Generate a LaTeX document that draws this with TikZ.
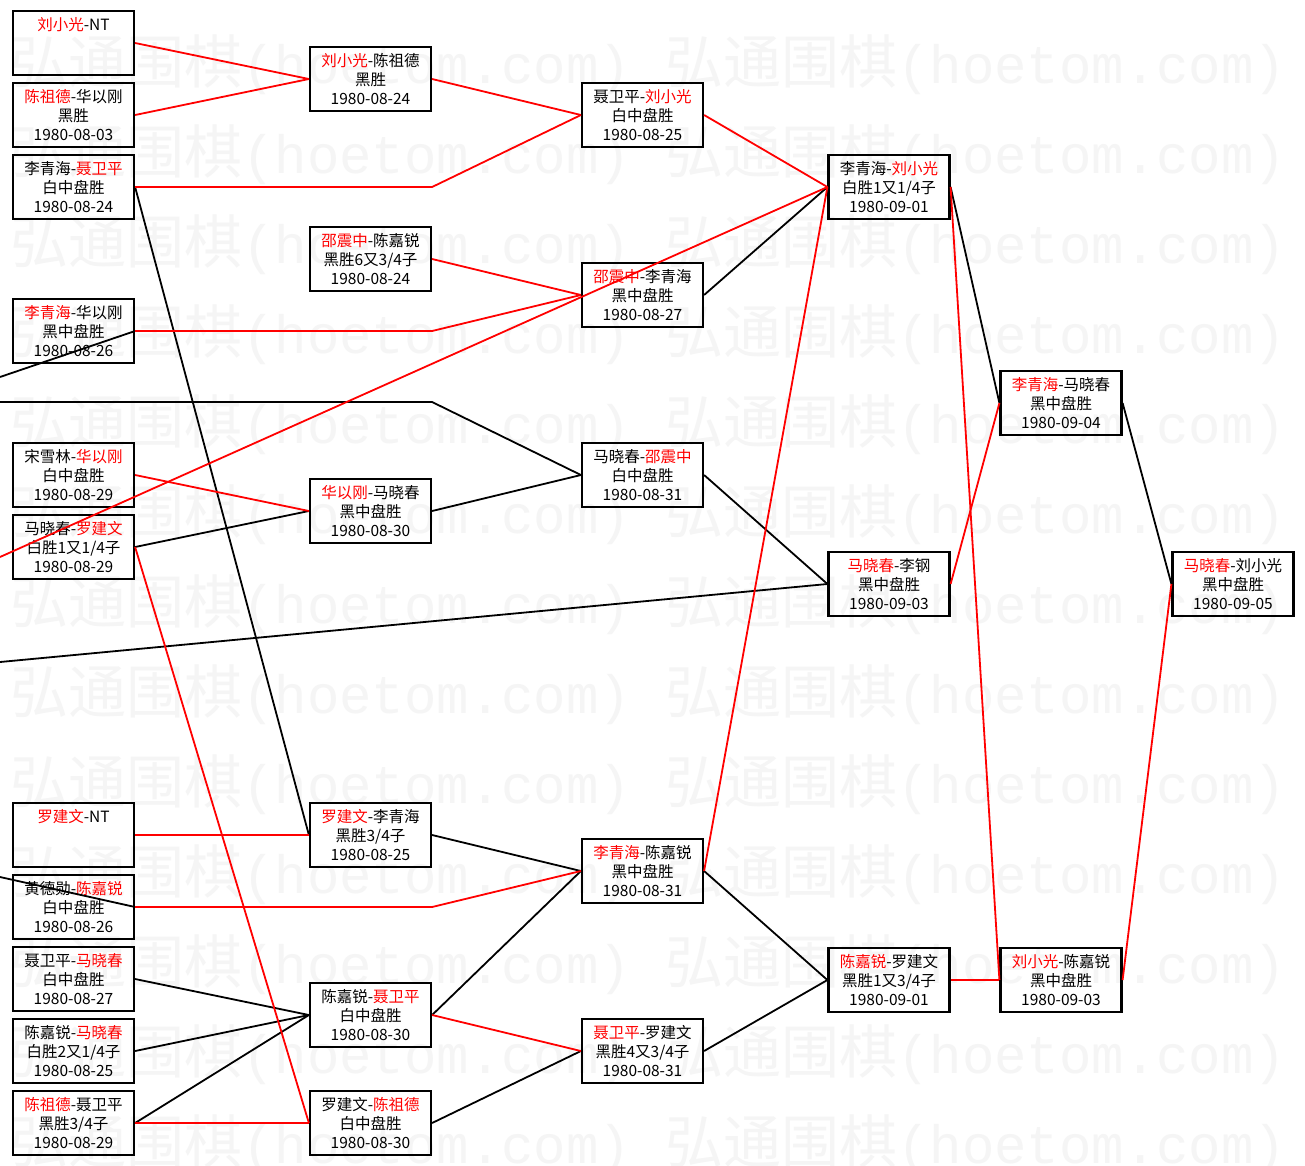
\documentclass[tikz,border=0pt]{standalone}
\usepackage{fontspec}
\setmainfont{Noto Sans CJK SC}
\newfontfamily\wmmono{Liberation Mono}
\newcommand\R[1]{\textcolor{red}{#1}}
\newcommand\mkbox[6]{%
  \node[gbox] (#1) at (#2,#3) {};
  \node[gtext] (#1t) at ([yshift=-2.9pt]#1.center) {\begin{tabular}{@{}c@{}}#4\strut\\#5\strut\\#6\strut\end{tabular}};%
}
\begin{document}
\begin{tikzpicture}[x=1pt,y=-1pt,
  gbox/.style={draw=black, line width=2.2pt, minimum width=121pt, minimum height=64pt, inner sep=0pt},
  gtext/.style={inner sep=0pt, font=\fontsize{15.5}{19}\selectfont},
  conr/.style={draw=red, line width=1.8pt},
  conb/.style={draw=black, line width=1.8pt},
  wm/.style={inner sep=0pt, text=black!4, anchor=west}]
\fill[white] (0,0) rectangle (1305,1165);
\useasboundingbox (0,0) rectangle (1305,1165);
% watermark
\foreach \k in {0,...,12}{
  \node[wm] (wmA\k) at (10,{65+90*\k}) {\fontsize{58}{58}\selectfont 弘通围棋{\wmmono\fontsize{54}{54}\selectfont(hoetom.com)}};
  \node[wm] (wmB\k) at (665,{65+90*\k}) {\fontsize{58}{58}\selectfont 弘通围棋{\wmmono\fontsize{54}{54}\selectfont(hoetom.com)}};
}
% column 1
\mkbox{a0}{73.5}{43}{\R{刘小光}-NT}{}{}
\mkbox{a1}{73.5}{115}{\R{陈祖德}-华以刚}{黑胜}{1980-08-03}
\mkbox{a2}{73.5}{187}{李青海-\R{聂卫平}}{白中盘胜}{1980-08-24}
\mkbox{a4}{73.5}{331}{\R{李青海}-华以刚}{黑中盘胜}{1980-08-26}
\mkbox{a6}{73.5}{475}{宋雪林-\R{华以刚}}{白中盘胜}{1980-08-29}
\mkbox{a7}{73.5}{547}{马晓春-\R{罗建文}}{白胜1又1/4子}{1980-08-29}
\mkbox{a11}{73.5}{835}{\R{罗建文}-NT}{}{}
\mkbox{a12}{73.5}{907}{黄德勋-\R{陈嘉锐}}{白中盘胜}{1980-08-26}
\mkbox{a13}{73.5}{979}{聂卫平-\R{马晓春}}{白中盘胜}{1980-08-27}
\mkbox{a14}{73.5}{1051}{陈嘉锐-\R{马晓春}}{白胜2又1/4子}{1980-08-25}
\mkbox{a15}{73.5}{1123}{\R{陈祖德}-聂卫平}{黑胜3/4子}{1980-08-29}
% column 2
\mkbox{b1}{370.5}{79}{\R{刘小光}-陈祖德}{黑胜}{1980-08-24}
\mkbox{b3}{370.5}{259}{\R{邵震中}-陈嘉锐}{黑胜6又3/4子}{1980-08-24}
\mkbox{b6}{370.5}{511}{\R{华以刚}-马晓春}{黑中盘胜}{1980-08-30}
\mkbox{b11}{370.5}{835}{\R{罗建文}-李青海}{黑胜3/4子}{1980-08-25}
\mkbox{b13}{370.5}{1015}{陈嘉锐-\R{聂卫平}}{白中盘胜}{1980-08-30}
\mkbox{b15}{370.5}{1123}{罗建文-\R{陈祖德}}{白中盘胜}{1980-08-30}
% column 3
\mkbox{c1}{642.5}{115}{聂卫平-\R{刘小光}}{白中盘胜}{1980-08-25}
\mkbox{c2}{642.5}{295}{\R{邵震中}-李青海}{黑中盘胜}{1980-08-27}
\mkbox{c3}{642.5}{475}{马晓春-\R{邵震中}}{白中盘胜}{1980-08-31}
\mkbox{c4}{642.5}{871}{\R{李青海}-陈嘉锐}{黑中盘胜}{1980-08-31}
\mkbox{c5}{642.5}{1051}{\R{聂卫平}-罗建文}{黑胜4又3/4子}{1980-08-31}
% column 4
\mkbox{d1}{889}{187}{李青海-\R{刘小光}}{白胜1又1/4子}{1980-09-01}
\mkbox{d2}{889}{584}{\R{马晓春}-李钢}{黑中盘胜}{1980-09-03}
\mkbox{d3}{889}{980}{\R{陈嘉锐}-罗建文}{黑胜1又3/4子}{1980-09-01}
% column 5
\mkbox{e1}{1061}{403}{\R{李青海}-马晓春}{黑中盘胜}{1980-09-04}
\mkbox{e2}{1061}{980}{\R{刘小光}-陈嘉锐}{黑中盘胜}{1980-09-03}
% column 6
\mkbox{f1}{1233}{584}{\R{马晓春}-刘小光}{黑中盘胜}{1980-09-05}
% free ends at the left edge
\coordinate (o1) at (0,377);
\coordinate (o2) at (0,402);
\coordinate (o3) at (0,557);
\coordinate (o4) at (0,662);
\coordinate (o5) at (0,877);
% black connectors
\draw[conb] (a2.east) -- (b11.west);
\draw[conb] (o1) -- (a4.east);
\draw[conb] (o2) -- (o2 -| b1.east) -- (c3.west);
\draw[conb] (a7.east) -- (b6.west);
\draw[conb] (b6.east) -- (c3.west);
\draw[conb] (c3.east) -- (d2.west);
\draw[conb] (o4) -- (d2.west);
\draw[conb] (o5) -- (a12.east);
\draw[conb] (a13.east) -- (b13.west);
\draw[conb] (a14.east) -- (b13.west);
\draw[conb] (a15.east) -- (b13.west);
\draw[conb] (b11.east) -- (c4.west);
\draw[conb] (b13.east) -- (c4.west);
\draw[conb] (b15.east) -- (c5.west);
\draw[conb] (c2.east) -- (d1.west);
\draw[conb] (c4.east) -- (d3.west);
\draw[conb] (c5.east) -- (d3.west);
\draw[conb] (d1.east) -- (e1.west);
\draw[conb] (e1.east) -- (f1.west);
% red connectors
\draw[conr] (a0.east) -- (b1.west);
\draw[conr] (a1.east) -- (b1.west);
\draw[conr] (a2.east) -- (a2.east -| b1.east) -- (c1.west);
\draw[conr] (b1.east) -- (c1.west);
\draw[conr] (b3.east) -- (c2.west);
\draw[conr] (a4.east) -- (a4.east -| b1.east) -- (c2.west);
\draw[conr] (o3) -- (d1.west);
\draw[conr] (a6.east) -- (b6.west);
\draw[conr] (a7.east) -- (b15.west);
\draw[conr] (a11.east) -- (b11.west);
\draw[conr] (a12.east) -- (a12.east -| b1.east) -- (c4.west);
\draw[conr] (a15.east) -- (b15.west);
\draw[conr] (b13.east) -- (c5.west);
\draw[conr] (c1.east) -- (d1.west);
\draw[conr] (c4.east) -- (d1.west);
\draw[conr] (d1.east) -- (e2.west);
\draw[conr] (d2.east) -- (e1.west);
\draw[conr] (d3.east) -- (e2.west);
\draw[conr] (e2.east) -- (f1.west);
\end{tikzpicture}
\end{document}
